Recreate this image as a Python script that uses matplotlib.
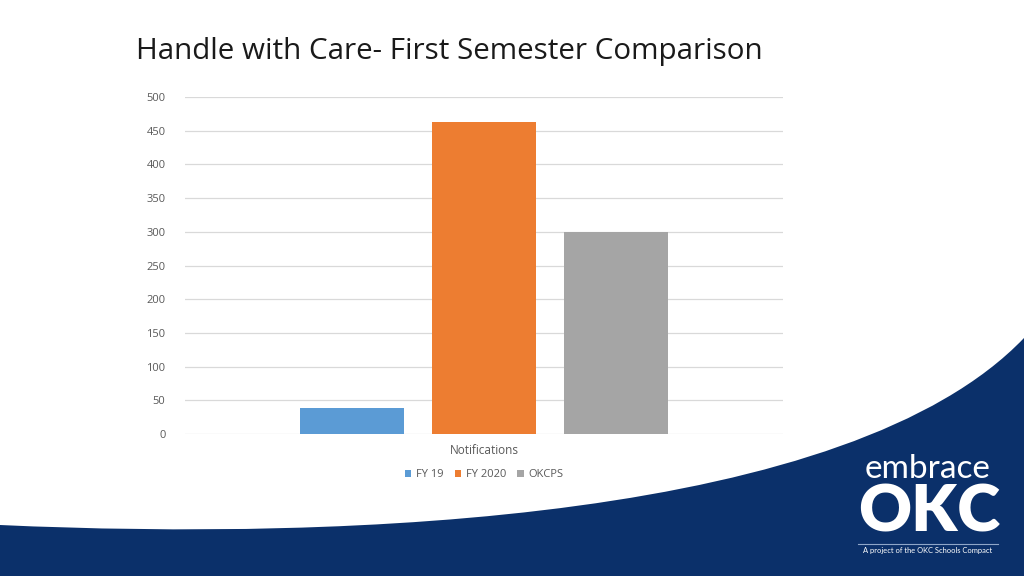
import matplotlib.pyplot as plt
from matplotlib.path import Path
from matplotlib.patches import PathPatch

# chart data
categories = ['Notifications']
series = ['FY 19', 'FY 2020', 'OKCPS']
values = [38, 463, 299]
colors = ['#5b9bd5', '#ed7d31', '#a5a5a5']
yticks = [0, 50, 100, 150, 200, 250, 300, 350, 400, 450, 500]

W, H = 1024, 576
fig = plt.figure(figsize=(W / 100, H / 100), dpi=100)
fig.patch.set_facecolor('white')

# background wave (figure pixel coords, y from top)
navy = '#0b306a'
def px(x, y):
    return (x / W, 1 - y / H)
verts = [px(0, 525), px(350, 541), px(850, 520), px(1024, 338),
         px(1024, 576), px(0, 576), px(0, 525)]
codes = [Path.MOVETO, Path.CURVE4, Path.CURVE4, Path.CURVE4,
         Path.LINETO, Path.LINETO, Path.CLOSEPOLY]
fig.patches.append(PathPatch(Path(verts, codes), transform=fig.transFigure,
                             facecolor=navy, edgecolor='none', zorder=0))

# logo
fig.text(928 / W, 1 - 469 / H, 'embrace', color='white', fontsize=24,
         family='Lato', weight='normal', ha='center', va='center')
fig.text(929 / W, 1 - 513 / H, 'OKC', color='white', fontsize=47,
         family='Lato', weight='heavy', ha='center', va='center')
fig.lines.append(plt.Line2D([858 / W, 998 / W], [1 - 544 / H, 1 - 544 / H],
                            transform=fig.transFigure, color='#8fa6c8', lw=0.8))
fig.text(928 / W, 1 - 551 / H, 'A project of the OKC Schools Compact',
         color='white', fontsize=5.4, family='Lato', ha='center', va='center')

# title
fig.text(136 / W, 1 - 52 / H, 'Handle with Care- First Semester Comparison',
         fontsize=21.3, family='Open Sans', color='#1a1a1a', va='center', ha='left')

ax = fig.add_axes([185 / W, 1 - 434 / H, (783 - 185) / W, (434 - 97) / H])
ax.set_facecolor('none')
width = 104 / 132
for i, (s, v, c) in enumerate(zip(series, values, colors)):
    ax.bar(i - 1, v, width=width, color=c, label=s, zorder=3)

ax.set_xlim(-299 / 132, 299 / 132)
ax.set_ylim(0, 500)
ax.set_yticks(yticks)
ax.set_xticks([0])
ax.set_xticklabels(categories)
ax.grid(axis='y', color='#d9d9d9', lw=0.9, zorder=0)
for sp in ax.spines.values():
    sp.set_visible(False)
ax.tick_params(axis='both', length=0, colors='#595959', labelsize=8)
ax.tick_params(axis='y', pad=14)
ax.tick_params(axis='x', pad=7, labelsize=8.5)
for lab in ax.get_yticklabels() + ax.get_xticklabels():
    lab.set_family('Open Sans')

leg = ax.legend(loc='upper center', bbox_to_anchor=(0.5, -0.075), ncol=3,
                frameon=False, handlelength=0.6, handleheight=0.6,
                handletextpad=0.4, columnspacing=1.0,
                prop={'family': 'Open Sans', 'size': 8})
for t in leg.get_texts():
    t.set_color('#595959')

fig.savefig('out.png', dpi=100)
